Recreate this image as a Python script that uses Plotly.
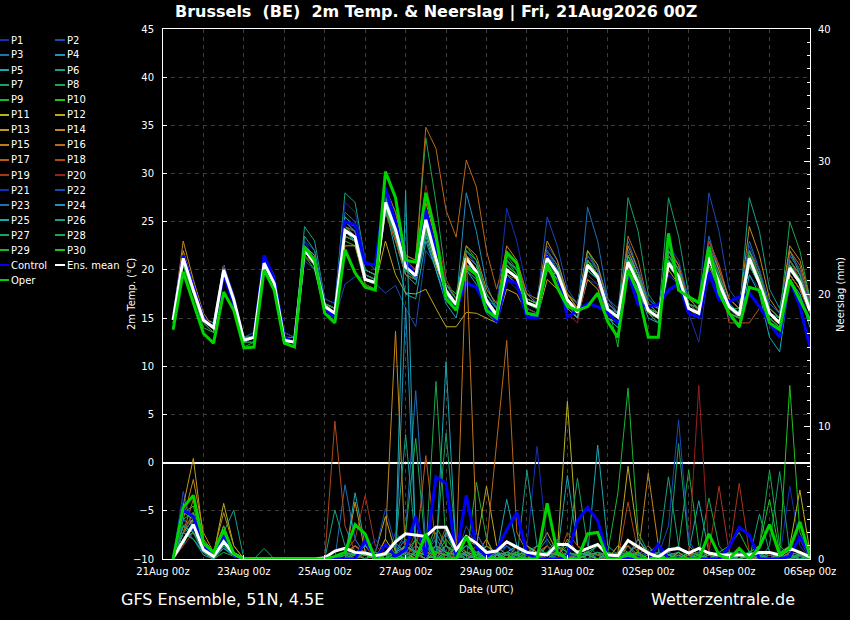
import plotly.graph_objects as go
import pandas as pd

# ---------------- data ----------------
START = "2026-08-21 06:00"
N_STEPS = 64
X_RANGE = ["2026-08-21 00:00", "2026-09-06 00:00"]
TITLE = "Brussels  (BE)  2m Temp. & Neerslag | Fri, 21Aug2026 00Z"

# 2m temperature (degC), 6-hourly from 21Aug 06z
T_MEAN = [14.8, 21.2, 17.9, 14.8, 14.0, 20.0, 16.9, 12.7,
          13.0, 20.7, 18.6, 12.7, 12.5, 22.1, 20.7, 16.2,
          15.5, 24.1, 23.4, 19.0, 18.7, 27.0, 24.2, 20.3,
          19.4, 25.2, 21.2, 17.8, 16.4, 21.2, 19.8, 16.8,
          15.3, 20.0, 19.2, 16.6, 16.2, 21.2, 19.7, 16.9,
          15.6, 20.5, 19.3, 15.9, 15.1, 20.8, 18.6, 15.8,
          15.1, 20.7, 19.3, 16.0, 15.5, 21.3, 18.6, 16.2,
          15.3, 21.2, 18.6, 15.5, 14.5, 20.2, 18.7, 15.8]
T_CONTROL = [14.8, 21.5, 18.2, 15, 14, 19.5, 16.5, 12.7,
             13, 21.5, 19, 13, 12.5, 22, 21, 16,
             15, 25, 24.7, 20.7, 20.5, 28.5, 25, 21,
             19.3, 26.2, 21.8, 16.9, 16.0, 18.6, 18.2, 16.2,
             14.6, 19.0, 18.6, 15.1, 15.0, 21.4, 19.7, 15.1,
             15.8, 16.5, 16.2, 15.5, 14.5, 19.7, 16.4, 16.2,
             16.4, 17.9, 18.6, 15.5, 15.1, 19.7, 16.9, 16.7,
             17.2, 17.6, 16.2, 14.5, 13.0, 19.0, 16.2, 12.0]
T_OPER = [13.8, 19.8, 16.6, 13.4, 12.4, 17.7, 15.8, 11.9,
          12.0, 20.0, 17.9, 12.4, 12.0, 22.4, 21.0, 15.5,
          14.5, 22.1, 19.7, 18.2, 17.9, 30.2, 27.5, 21.0,
          20.8, 28.0, 23.6, 17.0, 15.8, 20.3, 19.5, 15.8,
          15.0, 21.8, 20.7, 15.5, 15.3, 20.7, 18.2, 16.2,
          15.8, 16.2, 17.6, 14.6, 13.0, 20.0, 17.6, 13.0,
          13.0, 23.8, 17.9, 17.2, 16.6, 22.4, 17.6, 15.5,
          14.1, 18.2, 17.9, 14.5, 13.8, 19.0, 16.9, 14.8]

T_P1 = [15, 21.5, 18, 15, 14, 20.5, 17, 13,
        13, 21, 19, 13, 12.5, 23, 21, 16.5,
        16, 25, 24, 19.5, 19, 28, 25, 21,
        20, 24, 20, 17, 16, 19, 18, 16,
        14.5, 19, 18, 16, 15.5, 20, 19, 16.5,
        15, 19, 18.5, 15, 14, 20, 18, 15.5,
        14.5, 19.5, 18.5, 15.5, 12.5, 20, 18, 15,
        14.5, 19.5, 18, 15, 14, 18.5, 17.5, 15]
T_P2 = [14.5, 20.5, 17.5, 14.5, 13.5, 19.5, 16.5, 12.5,
        12.5, 20, 18, 12.5, 12, 21, 20, 16,
        15, 18.5, 19.3, 19.2, 18.6, 17.6, 18.4, 16,
        14.1, 22, 20.5, 18, 16.5, 22, 20.5, 17,
        15.5, 21, 20, 17.5, 16.5, 22.5, 21, 17.5,
        16, 21.5, 20, 16.5, 15.5, 21.5, 19.5, 16.5,
        15.5, 22, 20, 16.5, 16, 23, 20, 17,
        16, 22, 19.5, 16, 15, 21, 19, 16.5]
T_P3 = [15, 21, 18, 15, 14, 20, 17, 12.5,
        13, 20.5, 19, 13, 12.5, 22.5, 21.5, 16.5,
        16, 26, 25, 20, 19.5, 27.5, 24.5, 20,
        19, 25.5, 22, 18.5, 17, 22, 21, 17.5,
        16, 21, 20, 17, 16.5, 22, 20.5, 17.5,
        16.5, 22, 20.5, 17, 16, 23, 20, 17,
        16, 22, 20.5, 17, 16.5, 23.5, 20, 17,
        16, 23, 20, 16.5, 15.5, 22, 20, 17]
T_P4 = [15, 21, 18, 15, 14, 20, 17, 13,
        13, 21, 19, 13, 12.5, 22, 21, 16,
        15.5, 24.5, 23.5, 19.5, 19, 26.5, 23.5, 20,
        19, 24, 21, 18, 16.5, 28, 24, 18.5,
        16, 19, 18.5, 16, 15.5, 20.5, 19, 16.5,
        15, 21, 20, 16, 15, 22, 19.5, 16,
        15, 21.5, 19.5, 15.5, 15, 21, 18.5, 15.5,
        15, 20.5, 18.5, 15, 14, 20.5, 19, 16]
T_P5 = [15, 21, 18, 15, 14.5, 20.5, 17, 13,
        13.5, 21, 19, 13.5, 13, 22.5, 21, 16.5,
        16, 25.5, 24.5, 19.5, 19, 26.5, 22, 17.5,
        17, 23, 20, 17, 16, 20, 19, 16.5,
        15, 19.5, 18.5, 16, 15.5, 20.5, 19, 16,
        15, 21, 19.5, 16, 15, 20, 18, 15.5,
        15, 20.5, 19, 16, 15.5, 22, 19, 16,
        15.5, 22, 19, 15.5, 14.5, 21, 19, 16]
T_P6 = [15, 21.5, 18.5, 15, 14, 20, 17, 12.5,
        13, 20.5, 18.5, 12.5, 12.5, 24.5, 23, 17,
        16.5, 28, 27, 21, 20, 28, 24.5, 21,
        20, 26, 22, 18, 16.5, 21.5, 20.5, 17,
        15.5, 20.5, 19.5, 16.5, 16, 21.5, 20, 17,
        15.5, 20, 19, 15.5, 14.5, 21.5, 19, 15.5,
        15, 21, 19.5, 16, 15.5, 21, 18.5, 16,
        15.5, 27.5, 24, 18, 16, 22, 19.5, 16]
T_P7 = [15, 21, 18, 15, 14, 20, 17, 13,
        13, 20.5, 18.5, 13, 12.5, 22, 21, 16.5,
        15.5, 24, 23, 19, 18.5, 26.5, 23.5, 20,
        19, 24.5, 21, 17.5, 16, 20.5, 19.5, 16.5,
        15, 20.5, 19.5, 16.5, 16, 22, 20.5, 17,
        15.5, 21, 19.5, 16, 15, 27.5, 24, 17.5,
        16, 21, 19.5, 16, 15.5, 22, 19, 16,
        15, 21, 19, 15.5, 14.5, 20.5, 19, 16]
T_P8 = [15, 21, 18, 15, 14, 20, 17, 12.5,
        13, 21, 19, 13, 12.5, 22, 21, 16,
        15.5, 24.5, 24, 19.5, 19, 28.5, 26, 21.5,
        21, 33.7, 27, 19, 17, 22, 20.5, 17.5,
        16, 21.5, 20, 17, 16.5, 22, 20, 17,
        16, 21, 19.5, 16, 15, 21, 19, 16,
        15, 22, 20, 16.5, 15.5, 21.5, 19, 16,
        15.5, 21.5, 19, 15.5, 14.5, 20, 18.5, 15.5]
T_P9 = [14.5, 20.5, 17.5, 14.5, 13.5, 19.5, 16.5, 12,
        12.5, 20, 18, 12.5, 12, 21.5, 20.5, 16,
        15, 23.5, 23, 19, 18.5, 26.5, 24, 20.5,
        19.5, 24.5, 21.5, 18.5, 17.5, 22.5, 21, 17.5,
        16, 21, 19.5, 17, 16.5, 21.5, 20, 17.5,
        16.5, 22, 20, 16.5, 12, 21.5, 19, 16.5,
        15.5, 21, 19.5, 16, 15, 20.5, 18.5, 15.5,
        15, 21.5, 19, 15.5, 14.5, 21.5, 20, 16.5]
T_P10 = [14.5, 20.5, 17.5, 14, 13.5, 19.5, 16.5, 12.5,
         12.5, 20, 18, 12.5, 12, 21.5, 20, 15.5,
         15, 23, 22.5, 18.5, 18, 26.5, 24, 20,
         19, 24, 20.5, 17.5, 16, 20.5, 19.5, 16.5,
         15, 20, 19, 16.5, 16, 20.5, 19, 16.5,
         15.5, 20.5, 19, 15.5, 15, 20.5, 18.5, 15.5,
         14.5, 21, 19.5, 16, 15.5, 21, 18.5, 16,
         15.5, 20.5, 18.5, 15.5, 14.5, 20, 18.5, 16]
T_P11 = [15, 21, 18, 15, 14, 20, 17, 12.5,
         13, 20.5, 18.5, 12.5, 12.5, 22, 20.5, 16,
         15.5, 23.5, 23, 19, 18.5, 26, 23, 19.5,
         19, 24, 20.5, 17.5, 16.5, 20.5, 20, 17,
         15.5, 20, 19, 16.5, 16, 20, 19.5, 17.5,
         16, 20, 19, 16.5, 15.5, 20, 18.5, 16.5,
         15.5, 20.5, 19.5, 16.5, 16, 21, 18.5, 16,
         15.5, 20.5, 18.5, 15.5, 14.5, 19.5, 18, 15.5]
T_P12 = [15, 21.5, 18.5, 15, 14, 20.5, 17, 13,
         13, 21, 19, 13, 12.5, 22, 21, 16.5,
         15.5, 22.5, 22.5, 19, 18.5, 23, 19.5, 17.6,
         17.5, 18, 16, 14.1, 14.1, 15.6, 15.5, 15,
         14.5, 18, 17.5, 15.5, 15, 19, 18, 16,
         15, 19, 18, 15, 14.5, 19.5, 18, 15.5,
         15, 20, 18.5, 15.5, 15, 20.5, 18, 15.5,
         15, 20.5, 18.5, 15.5, 14.5, 19.5, 18, 15.5]
T_P13 = [15.5, 22, 18.5, 15, 14, 20.5, 17, 13,
         13, 21, 19, 13, 12.5, 22.5, 21, 16,
         15.5, 24, 23.5, 19, 18.5, 27, 24.5, 20.5,
         19.5, 25, 21.5, 18, 16.5, 21, 20, 17,
         15.5, 21, 20, 17, 16.5, 21.5, 20, 17,
         15.5, 21, 19.5, 16, 15, 22, 19.5, 16,
         15.5, 20.5, 19, 16, 15.5, 21.5, 19, 16,
         15.5, 21.5, 19, 15.5, 14.5, 21, 19.5, 16.5]
T_P14 = [15, 23, 19, 15.5, 14, 20.5, 17, 12.5,
         13, 21, 19, 13, 12.5, 22.5, 21.5, 16.5,
         16, 24.5, 24, 20, 19.5, 28, 25, 21,
         20, 27, 23, 18.5, 17, 22.5, 21.5, 18,
         16.5, 22.5, 21, 17.5, 17, 23, 21, 17.5,
         16.5, 22, 20.5, 16.5, 15.5, 22.5, 20, 16.5,
         16, 22, 20.5, 17, 16, 22.5, 20, 17,
         16, 24.5, 21.5, 17, 15.5, 22.5, 21, 17]
T_P15 = [15, 21.5, 18, 15, 14, 20, 17, 12.5,
         13, 20.5, 18.5, 13, 12.5, 22, 20.5, 16,
         15.5, 24, 23, 19, 18.5, 27.5, 24.5, 20.5,
         19, 25.5, 22, 18, 16.5, 21.5, 20, 17,
         15.5, 20.5, 19.5, 17, 16.5, 21.5, 20, 17.5,
         16, 21, 19.5, 16.5, 15.5, 21, 19, 16.5,
         15.5, 21, 19.5, 16, 15.5, 21, 19, 16,
         15, 21, 19, 15.5, 14.5, 21, 19, 16]
T_P16 = [15, 21.5, 18, 15, 14, 20, 17, 13,
         13, 21, 19, 13, 12.5, 22, 21, 16.5,
         16, 25, 24.5, 20, 19.5, 28.5, 26, 21.5,
         21, 34.8, 32.6, 26.2, 23.4, 31.4, 28.6, 22,
         18, 22, 20.5, 17.5, 16.5, 22, 20, 17,
         16, 21.5, 20, 16, 15, 23.5, 21, 16.5,
         15.5, 21.5, 20, 16.5, 16, 23, 20.5, 17,
         16, 22, 20, 16, 15, 22, 20.5, 16.5]
T_P17 = [15, 21, 18, 15, 14, 20, 17, 12.5,
         13, 20.5, 18.5, 13, 12.5, 21.5, 20.5, 16,
         15.5, 23.5, 23, 19, 18.5, 26.5, 23.5, 20,
         19, 24.5, 21, 17.5, 16, 20.5, 19.5, 16.5,
         15, 19.5, 19, 16.5, 16, 20.5, 19.5, 16.5,
         15.5, 20, 19, 15.5, 14.5, 20.5, 18.5, 15.5,
         15, 22.5, 20.5, 16.5, 15.5, 22.5, 19.5, 14.5,
         14.5, 14.5, 16, 15, 14, 19.5, 18, 15.5]
T_P18 = [15, 21, 18, 15, 14, 20, 17, 12.5,
         13, 20.5, 18.5, 12.5, 12.5, 22, 20.5, 16,
         15, 23.5, 23, 18.5, 18, 26, 23, 19.5,
         19, 24.5, 21, 18, 16.5, 21, 20, 17,
         15.5, 20, 19, 16.5, 16, 21, 19.5, 16.5,
         15.5, 20, 19, 16, 15, 20.5, 18.5, 16,
         15, 20.5, 19, 16, 15.5, 21.5, 19, 16,
         15.5, 21, 19, 15.5, 14.5, 20.5, 19, 16.5]
T_P19 = [15, 21, 18, 15, 14, 20, 17, 13,
         13, 21, 19, 13, 13, 22.5, 21, 16.5,
         16, 24.5, 24, 19.5, 19, 27.5, 24.5, 20.5,
         19.5, 25, 21.5, 18, 16.5, 21, 20, 16.5,
         15, 20.5, 19.5, 16.5, 16, 21, 19.5, 17,
         15.5, 21, 19.5, 16, 15, 20.5, 18.5, 16,
         15.5, 21, 19.5, 16, 15, 23, 20.5, 15.5,
         14, 21.5, 19.5, 15.5, 14, 21.5, 20, 16.5]
T_P20 = [15, 21, 18, 15, 14, 20, 17, 12.5,
         13, 20.5, 18.5, 12.5, 12.5, 21.5, 20.5, 16,
         15.5, 24, 23.5, 19, 18.5, 27, 24.5, 21,
         20, 28.8, 24, 19, 17, 21, 19.5, 16,
         15, 19.5, 18.5, 16, 15.5, 20, 18.5, 15.5,
         14.5, 19.5, 18.5, 15.5, 14.5, 20, 18, 15.5,
         15, 20.5, 19, 16, 15.5, 21, 18.5, 16,
         15.5, 21.5, 19, 15.5, 14.5, 21, 19, 16]
T_P21 = [15, 21.5, 18.5, 15, 14, 20.5, 17.5, 13,
         13.5, 21.5, 19.5, 13.5, 13, 23, 22, 17,
         16.5, 27, 26, 21, 20, 28, 24.5, 21,
         19.5, 26, 22.5, 18.5, 16.5, 22, 20.5, 17,
         16, 26.4, 23, 18, 16.5, 22, 20, 16.5,
         15.5, 20.5, 19, 16, 15, 21, 19, 16,
         15.5, 21, 19.5, 16, 15.5, 22.5, 19.5, 16.5,
         15.5, 21, 19, 15.5, 14.5, 20.5, 19, 16]
T_P22 = [15, 21, 18, 15, 14, 20, 17, 12.5,
         13, 21, 19, 13, 12.5, 22, 21, 16,
         15.5, 25, 24, 19.5, 19, 27.5, 24.5, 20.5,
         19.5, 25, 21.5, 18, 16.5, 21.5, 20.5, 17.5,
         16, 21, 20, 17, 16.5, 25.5, 22.5, 18,
         16.5, 21.5, 20, 16.5, 15.5, 22, 20, 17,
         16, 22.5, 21, 17, 16.5, 28, 24, 18,
         16.5, 22.5, 20, 16.5, 15.5, 21.5, 20, 16.5]
T_P23 = [15, 21, 18, 15, 14, 20, 17, 12.5,
         13, 20.5, 18.5, 13, 12.5, 22, 20.5, 16,
         15.5, 24, 23.5, 19, 18.5, 26.5, 23.5, 20,
         19, 24.5, 21, 17.5, 16, 21, 19.5, 16.5,
         15, 20, 19, 16.5, 16, 21, 19.5, 16.5,
         15.5, 26.5, 23, 17, 15.5, 21, 19, 16,
         15.5, 21, 19.5, 16, 15.5, 21, 18.5, 16,
         15, 20.5, 18.5, 15, 14, 20, 18.5, 15.5]
T_P24 = [15, 21, 18, 15, 14, 20, 17, 13,
         13, 21, 19, 13, 13, 22.5, 21, 16.5,
         16, 25, 24, 19.5, 19, 27, 24, 20,
         19, 24.5, 21, 17.5, 16, 21, 20, 17,
         15.5, 20.5, 19.5, 17, 16.5, 21, 19.5, 17,
         16, 20.5, 19.5, 16, 15, 21, 19, 16,
         15.5, 21, 19.5, 16, 15.5, 21, 19, 16,
         15.5, 20.5, 18.5, 15.5, 14.5, 20.5, 19, 16]
T_P25 = [15, 21, 18, 15, 14, 20, 17, 12.5,
         13, 20.5, 18.5, 12.5, 12.5, 22, 20.5, 16,
         15.5, 24, 23, 19, 18.5, 26.5, 23.5, 19.5,
         18.5, 23.5, 20, 16.5, 15, 20, 18.5, 15.5,
         14.5, 19.5, 18.5, 15.5, 15, 20, 19, 16,
         15, 20, 19, 15, 14, 20, 18, 15,
         14.5, 20.5, 19, 15.5, 15, 21, 18.5, 15.5,
         14, 19.5, 17.5, 13, 11.5, 19, 17.5, 14]
T_P26 = [15, 21, 18, 15, 14, 20, 17, 13,
         13, 21, 19, 13, 12.5, 23.5, 22, 16.5,
         16, 25.5, 24.5, 20, 19.5, 27.5, 24.5, 20.5,
         19.5, 25, 21.5, 18, 16.5, 21, 20, 17,
         15.5, 20.5, 19.5, 17, 16.5, 21.5, 20, 17,
         16, 21, 19.5, 16, 15.5, 21.5, 19.5, 16.5,
         15.5, 22, 20, 16.5, 16, 22, 19.5, 16.5,
         15.5, 21.5, 19, 15.5, 15, 20.5, 19, 16.5]
T_P27 = [15, 21, 18, 15, 14, 20, 17, 12.5,
         13, 20.5, 18.5, 13, 12.5, 22, 20.5, 16,
         15.5, 23.5, 23, 19, 18.5, 26, 23.5, 20,
         19, 24, 21, 18, 16.5, 21, 20, 17,
         15.5, 20, 19, 16.5, 16, 20.5, 19.5, 16.5,
         15.5, 20, 19, 15.5, 14.5, 21, 19, 16,
         15, 27.5, 23.5, 17.5, 15.5, 21.5, 19, 16,
         15.5, 21, 19, 15.5, 14.5, 21, 19.5, 16]
T_P28 = [15, 21, 18, 15, 14, 20, 17, 13,
         13, 21, 19, 13, 12.5, 22.5, 21, 16.5,
         16, 24.5, 23.5, 19.5, 19, 27, 24, 20.5,
         19.5, 25.5, 22, 18.5, 17, 22, 21, 17.5,
         16, 21, 20, 17, 16.5, 21.5, 20, 17,
         16, 21, 19.5, 16, 15, 21, 19, 16,
         15.5, 21.5, 20, 16.5, 16, 22, 19.5, 16,
         16, 22, 19.5, 16, 15, 25, 22, 17]
T_P29 = [15, 21, 18, 15, 14, 20, 17, 12.5,
         13, 20.5, 18.5, 12.5, 12.5, 22, 20.5, 16,
         15.5, 24, 23.5, 19, 18.5, 26.5, 23.5, 20,
         19.5, 24.5, 21, 17.5, 16, 20.5, 19.5, 16.5,
         15, 20, 19, 16.5, 16, 20.5, 19, 16.5,
         15.5, 20.5, 19, 15.5, 14.5, 20.5, 18.5, 15.5,
         15, 20.5, 19, 15.5, 15, 20.5, 18, 15.5,
         15, 20.5, 18.5, 15, 14, 20, 18.5, 15.5]
T_P30 = [15, 21, 18, 15, 14, 20, 17, 12.5,
         13, 20.5, 18.5, 13, 12.5, 22, 21, 16,
         15.5, 24, 23.5, 19, 18.5, 27, 24, 20.5,
         19.5, 25, 21.5, 18, 16.5, 21.5, 20.5, 17,
         15.5, 20.5, 19.5, 17, 16.5, 21, 19.5, 17,
         16, 21, 19.5, 16, 15, 21.5, 19, 16,
         15.5, 21, 19.5, 16, 15.5, 21.5, 19, 16,
         15.5, 21.5, 19, 16, 15, 20.5, 19, 16.5]

# precipitation (mm per 6h), right axis
R_MEAN = [0.1, 1.4, 2.6, 0.7, 0.2, 1.3, 0.4, 0,
          0, 0, 0, 0, 0, 0, 0, 0.1,
          0.6, 0.8, 0.5, 0.45, 0.25, 0.4, 1.3, 1.9,
          1.8, 1.7, 2.4, 2.4, 0.7, 1.7, 1.2, 0.5,
          0.6, 1.3, 0.9, 0.5, 0.4, 0.3, 1.1, 1.1,
          0.5, 0.8, 1.1, 0.3, 0.25, 1.4, 0.9, 0.45,
          0.15, 0.7, 0.8, 0.45, 0.8, 0.45, 0.3, 0.3,
          0.3, 0.3, 0.5, 0.5, 0.3, 0.8, 0.5, 0.15]
R_CONTROL = [0, 3.7, 3.2, 0.9, 0.4, 1.8, 0.3, 0,
             0, 0, 0, 0, 0, 0, 0, 0,
             0, 0, 0, 1.4, 0, 1.1, 0.2, 0.7,
             3.2, 0.2, 6.2, 5.7, 0.2, 4.8, 0.9, 0.2,
             0.7, 2.2, 3.5, 0.4, 0, 0, 0, 0.2,
             2.9, 3.9, 2.9, 0.2, 0, 0, 0, 0,
             1.1, 0, 0, 0, 0, 0, 0, 0.9,
             2.4, 1.8, 0, 0, 0, 0.2, 1.7, 0.2]
R_OPER = [0, 3.9, 4.8, 1.2, 0.5, 2.2, 0.4, 0,
          0, 0, 0, 0, 0, 0, 0, 0,
          0.2, 0.5, 2.6, 1.9, 0, 0, 0, 0,
          0, 1.9, 0, 0, 0, 1.7, 0, 0,
          0, 0, 0, 0, 0, 4.2, 0.5, 0,
          0, 1.9, 2.0, 0, 0, 0.4, 0, 0,
          0, 0, 0, 0, 0, 1.9, 0.3, 0,
          0.8, 0, 0.9, 2.6, 0.3, 0.8, 2.8, 0.2]

R_P1 = [0, 2.5, 1.5, 0.5, 0.2, 1, 0.3, 0,
        0, 0, 0, 0, 0, 0, 0, 0,
        0, 0.5, 1.5, 0.3, 0, 0.5, 0, 0.2,
        1, 0.5, 0.3, 2, 0.5, 1, 0.5, 0.2,
        0, 0.5, 1, 0.3, 0, 0, 0.5, 0.2,
        0, 0.3, 0, 0, 0, 0.5, 0.2, 0,
        0, 0.3, 0, 0, 0.5, 0, 0, 0.3,
        0, 0.5, 0.2, 0, 0, 5.5, 1, 0]
R_P2 = [0, 5.1, 2, 1, 0.3, 1.5, 0.5, 0,
        0, 0, 0, 0, 0, 0, 0, 0,
        0, 0, 0.5, 1, 0.5, 0, 2, 1,
        0.5, 1.5, 0.5, 0.3, 0, 2.5, 1, 0.3,
        0, 1, 0.5, 0, 0.3, 0.5, 0, 0,
        0.3, 0, 0.5, 0.2, 0, 1, 0.3, 0,
        0, 0.5, 1, 0.2, 0, 0.3, 0, 0,
        0.5, 0.3, 0, 0, 0.5, 0.3, 0, 0.2]
R_P3 = [0, 3, 2.5, 0.5, 0.3, 1, 0.2, 0,
        0, 0, 0, 0, 0, 0, 0, 0,
        0, 5.6, 1.5, 0.3, 0, 0, 0.5, 2,
        12.7, 1, 0.5, 0, 0.3, 1.5, 0.5, 0,
        0.3, 0, 0.5, 1, 0.3, 0, 0, 0.5,
        0.2, 0, 0, 0.5, 0, 0.2, 1.5, 0.3,
        0, 0.5, 0.2, 0, 0.3, 0, 0, 0.5,
        0.3, 0, 0.2, 0, 0, 0.5, 0.3, 0]
R_P4 = [0, 1.5, 2, 0.5, 0.2, 0.8, 0.2, 0,
        0, 0, 0, 0, 0, 0, 0, 0,
        0, 0, 1, 0.5, 0, 0.3, 0, 19,
        1, 0.3, 2, 0.5, 0, 0.3, 1, 0,
        0, 0.3, 0, 0.5, 0, 1, 0.3, 0,
        0, 0.5, 0.3, 0, 0, 0.2, 0, 0.5,
        1, 0.3, 0, 0, 0, 0.5, 0.2, 0,
        0, 0.3, 0, 0.5, 0, 0, 0.2, 0.3]
R_P5 = [0, 2, 1.5, 0.3, 0, 0.8, 0.3, 0,
        0, 0, 0, 0, 0, 0, 0, 0,
        0, 0, 0.5, 0.3, 0, 0, 0.5, 27.8,
        0.5, 0, 1, 0.5, 0.3, 0, 0.5, 1,
        0.3, 4.5, 1, 0.3, 0, 0.5, 0.3, 6.3,
        1, 0.3, 0, 0.5, 0, 0.2, 0, 0.5,
        0, 0.3, 0, 0.5, 4.4, 0.5, 0, 0,
        0.3, 0, 0, 0.3, 0, 0.2, 0.3, 0]
R_P6 = [0, 1, 3, 0.5, 0.3, 1.5, 0.5, 0,
        0, 0, 0, 0, 0, 0, 0, 0,
        3.7, 1, 0.5, 0.5, 0, 0.3, 1.2, 0.5,
        0, 1, 0.5, 2, 0.3, 0, 0.5, 0,
        0.5, 1, 0.3, 0, 0.5, 1.5, 0.3, 0,
        0, 0.5, 0.3, 0, 0, 0.5, 0.3, 0,
        0.5, 6.2, 1, 0, 0, 0.5, 0.3, 0,
        0, 0.3, 0.5, 0, 0, 0.3, 0, 0]
R_P7 = [0, 1.5, 2, 0.5, 0, 1, 0.3, 0,
        0, 0.8, 0, 0, 0, 0, 0, 0,
        0, 0.3, 0, 0.5, 0.3, 0, 0.5, 1,
        0.5, 0.3, 1, 9.5, 1, 0.5, 0, 0.3,
        0.5, 0.3, 0, 1, 0.5, 0, 0.5, 0.3,
        0, 0.3, 1, 0.5, 0, 0.5, 0, 0,
        0.3, 0, 0.5, 0, 0, 0.3, 0.5, 0,
        0, 0.5, 0, 1, 6.6, 0.5, 0, 0]
R_P8 = [0, 2, 3.5, 1, 0.3, 1.5, 0.5, 0,
        0, 0, 0, 0, 0, 0, 0, 0,
        0, 0.3, 0, 0.5, 0, 0, 1.5, 2,
        9.1, 0.5, 0.3, 1, 0, 0.5, 0.3, 0,
        0, 0.5, 0.3, 0, 0.3, 0.5, 1, 0.5,
        0.3, 0, 0.5, 0, 0, 1, 0.3, 0,
        0, 0.3, 0, 0.5, 0.3, 4.6, 1, 0,
        0, 0, 0.3, 0.5, 0, 0.3, 0, 0.5]
R_P9 = [0, 2.5, 2, 0.5, 0, 0.5, 0.2, 0,
        0, 0, 0, 0, 0, 0, 0, 0,
        0, 0, 0.3, 0.5, 0, 0.5, 0.3, 0,
        1.5, 0.5, 2.5, 1, 0.3, 0, 5.8, 1.5,
        0, 0.5, 0, 0.3, 0.5, 0, 0.3, 0,
        0.5, 0.3, 0, 0, 1, 0.3, 0, 0,
        0, 0.5, 1, 6.7, 1, 0.3, 0, 0,
        0.3, 0, 0.5, 0, 0, 0.5, 0.3, 0]
R_P10 = [0, 3.5, 4, 1, 0.5, 2, 0.3, 0,
         0, 0, 0, 0, 0, 0, 0, 0,
         0, 0, 0.5, 0, 0.3, 0.5, 0.3, 0,
         0.5, 0, 0.3, 1.5, 0.5, 0, 0.5, 0.3,
         0, 0.3, 0, 0.5, 0, 0.3, 0.5, 0,
         0, 0.5, 0.3, 0, 0, 1.5, 0.5, 0,
         0.3, 0, 0, 0.5, 0, 0, 0.3, 0.5,
         0, 0.3, 0, 0, 0.5, 1, 0.3, 0]
R_P11 = [0, 1.5, 2.5, 1, 0.3, 4.2, 1, 0,
         0, 0, 0, 0, 0, 0, 0, 0,
         0, 0.3, 0, 0.5, 0, 1.5, 0.3, 0.5,
         0, 0.5, 0.3, 0, 1, 0.3, 0, 0.5,
         0.3, 0, 0.5, 1, 0.5, 2, 0.5, 11.9,
         1, 0.3, 0, 0.5, 0, 0.3, 0.5, 0,
         0.3, 0, 0.5, 0, 0, 0.5, 0, 0.3,
         0, 0.5, 0, 0, 0.3, 1, 5.2, 0.5]
R_P12 = [0, 2, 3, 0.5, 0, 1.5, 0.3, 0,
         0, 0, 0, 0, 0, 0, 0, 0,
         0, 0.5, 1, 0.3, 0.5, 3.2, 0.5, 0,
         0.3, 0.5, 1, 0.5, 0, 1.5, 1, 5.5,
         1, 0.3, 0, 0.5, 0.3, 1, 0, 0.5,
         0, 0.5, 0.3, 0, 0.5, 7, 1.5, 0.3,
         0, 0.3, 0, 0.5, 0, 0.3, 0.5, 0,
         0.3, 0, 0, 0.5, 0, 0.3, 0, 0]
R_P13 = [0, 4, 7.6, 1.5, 0.5, 2.5, 0.5, 0,
         0, 0, 0, 0, 0, 0, 0, 0,
         0, 0, 4.3, 0.5, 0, 0.3, 0, 1,
         0.5, 0, 0.3, 1, 0.5, 0, 0.3, 1.5,
         0, 0.5, 0.3, 0, 1, 0.3, 0, 1.5,
         0.5, 0, 0.3, 0.5, 0, 0.5, 0.3, 1,
         0, 0.3, 0, 0.3, 0, 0.5, 0, 0.3,
         0.5, 0, 0, 0.3, 0, 0.5, 1.5, 0]
R_P14 = [0, 3, 6, 2, 0.5, 3.5, 1, 0,
         0, 0, 0, 0, 0, 0, 0, 0,
         0, 0, 0.3, 1, 0, 1.5, 17.2, 0,
         0.5, 0.3, 1, 0, 0.5, 0.3, 0, 1,
         0.5, 0, 0.3, 0, 0.5, 0.3, 1, 0,
         0, 0.3, 0.5, 0, 1, 0.5, 0.3, 6.5,
         1, 0, 0.3, 0, 0.5, 0, 0.3, 0,
         0.3, 0, 0.5, 0, 0, 0.3, 0, 0.5]
R_P15 = [0, 2.5, 3, 1, 0.3, 2, 0.5, 0,
         0, 0, 0, 0, 0, 0, 0, 0,
         0, 0.3, 0.5, 0, 0.3, 0, 0.5, 0.3,
         0, 1, 0.5, 0.3, 0, 23, 2, 0.5,
         0.3, 0, 1, 0.5, 0, 0.3, 0.5, 0,
         0.3, 0, 0.5, 0.3, 0, 0.5, 1, 0.3,
         0, 0.5, 0, 0.3, 0, 0, 0.5, 0,
         0, 0.3, 0, 0, 0.5, 0, 0.3, 0]
R_P16 = [0, 2, 4.5, 1, 0.3, 2, 0.3, 0,
         0, 0, 0, 0, 0, 0, 0, 0,
         0, 0.5, 0, 0.3, 0, 0.5, 0.3, 1,
         0.3, 0, 0.5, 0.3, 1.5, 0.5, 0.3, 1,
         8.5, 16.5, 2, 0.5, 0.3, 0, 0.5, 0,
         0.5, 0.3, 0, 0, 0.5, 1, 0, 0.3,
         0, 0.3, 0.5, 0, 0, 0.3, 0, 0.5,
         0.3, 0, 0, 0.5, 0, 0, 0.3, 0]
R_P17 = [0, 1.5, 2.5, 0.5, 0.2, 1.5, 0.3, 0,
         0, 0, 0, 0, 0, 0, 0, 0,
         0, 0.3, 1, 0.5, 0, 0, 0.5, 1,
         0.5, 7.8, 1, 0.3, 0, 0.5, 0, 0.3,
         0.5, 0, 0.3, 0, 0.5, 1, 0.3, 0,
         0, 0.3, 0, 0.5, 0.3, 0, 0.5, 0,
         0.3, 0, 0, 0.5, 0, 0.3, 0, 0,
         0, 0.5, 0.3, 0, 0, 0.5, 0, 0.3]
R_P18 = [0, 2, 3.5, 1, 0.3, 1.5, 0.5, 0,
         0, 0, 0, 0, 0, 0, 0, 0,
         10.4, 2.5, 0.5, 1, 0.3, 0, 0.5, 0.3,
         1, 0.5, 0.3, 2.5, 0.5, 0, 0.3, 0,
         0.5, 0.3, 0, 0.5, 0, 0.3, 0, 2,
         1, 0.5, 0.3, 0.5, 0, 4.3, 0.5, 0,
         0.3, 0, 0, 0.3, 0.5, 0, 0.3, 0,
         0, 0.3, 0, 0.5, 0.3, 0, 0.3, 0]
R_P19 = [0, 1, 2, 0.5, 0, 1, 0.3, 0,
         0, 0, 0, 0, 0, 0, 0, 0,
         0, 0.5, 1.5, 4.8, 1, 0.3, 0, 0.5,
         0.3, 1, 0.5, 0, 0.3, 0.5, 0.3, 0,
         0, 0.3, 0.5, 1, 0, 0.5, 0.3, 0,
         0.5, 0, 0.3, 0, 0.5, 0, 0.3, 0.5,
         0, 0.3, 0, 0.5, 0.3, 0.5, 5.5, 0.5,
         5.7, 0.5, 0, 0.3, 0, 0, 0.5, 0]
R_P20 = [0, 1.5, 2.5, 0.5, 0.2, 1, 0.3, 0,
         0, 0, 0, 0, 0, 0, 0, 0,
         0, 0, 0.5, 0, 0.3, 0.5, 1, 0.3,
         2, 0.5, 0, 0.3, 0.5, 0, 1, 0.3,
         0, 0.5, 0, 0.3, 0, 0.5, 0.3, 0,
         0.3, 0, 0.5, 0, 0.3, 0.5, 0, 0,
         0.5, 0, 0.3, 0.5, 13.1, 0.5, 0, 0,
         0.3, 0, 0.5, 0, 0.3, 0, 0, 0.5]
R_P21 = [0, 4.5, 3, 1, 0.3, 1.5, 0.3, 0,
         0, 0, 0, 0, 0, 0, 0, 0,
         0, 0.3, 0, 0.5, 1.5, 0.5, 0, 0.3,
         0.5, 1, 0.3, 0, 0.5, 1, 0.3, 0.5,
         0.3, 0, 0.5, 1, 8.5, 1, 0, 0.3,
         0.5, 0, 0.3, 0, 0.5, 0.3, 0, 0.5,
         0, 0.5, 0, 0, 0.3, 0, 0.5, 0,
         0.3, 0, 0.5, 0, 0, 0.3, 0, 0]
R_P22 = [0, 3, 2, 0.5, 0.3, 1, 0.3, 0,
         0, 0, 0, 0, 0, 0, 0, 0,
         0, 0, 0.5, 1, 0.5, 3.8, 1, 0.3,
         0, 0.5, 1, 0.3, 0, 0.5, 2, 0.5,
         0.5, 1, 0, 0.3, 0.5, 0, 0.3, 0.5,
         0, 0.5, 1, 0.3, 0, 0.5, 0.3, 1,
         0.3, 2.5, 10.5, 1.5, 0, 0.3, 0, 0,
         0.5, 0, 0.3, 0, 0, 1, 0.5, 0]
R_P23 = [0, 2, 1.5, 0.5, 0, 1, 0.2, 0,
         0, 0, 0, 0, 0, 0, 0, 0,
         0, 0.3, 0.5, 0, 0.5, 0.3, 0, 0.5,
         0.3, 0.5, 1.5, 0.5, 0.3, 0, 0.5, 0.3,
         0, 0.5, 0.3, 0, 0.3, 0.5, 0, 0.5,
         0.3, 0, 0.5, 0.3, 0, 0.5, 0, 0,
         0.5, 0.3, 0, 0, 0.5, 0, 0.3, 0,
         0, 0.3, 0, 0.5, 0, 0, 0.3, 0]
R_P24 = [0, 2.5, 2, 1, 0.3, 1.5, 0.3, 0,
         0, 0, 0, 0, 0, 0, 0, 0,
         0, 0.5, 0.3, 1, 0.3, 0, 0.5, 1.5,
         0.5, 0.3, 0, 1, 0.5, 0.3, 0, 0.5,
         0.5, 0, 0.3, 0.5, 1, 0.3, 0, 0,
         0.3, 0.5, 0, 0.3, 0, 0.3, 1.5, 0.5,
         0, 0.3, 0.5, 0, 0.3, 0, 0, 0.5,
         0.3, 0, 0.3, 0, 0.5, 0, 0, 0.3]
R_P25 = [0, 2, 2.5, 0.5, 0.2, 1, 0.2, 0,
         0, 0, 0, 0, 0, 0, 0, 0,
         0, 0, 5, 1, 0.3, 0, 0.5, 1,
         0.5, 1, 0.3, 14.9, 0.5, 0, 0.3, 1,
         0.3, 0.5, 1, 0, 0.3, 0.5, 0.3, 1,
         0.5, 0.3, 8.6, 1, 0.3, 0, 0.5, 0,
         0.3, 0, 0, 0.5, 0.3, 0, 0.5, 0,
         0, 0.5, 0.3, 0, 0, 0.3, 0, 0.3]
R_P26 = [0, 1.5, 2, 0.5, 0.3, 2, 3.7, 0,
         0, 0, 0, 0, 0, 0, 0, 0,
         0, 0, 0.3, 0.5, 0, 0.5, 1, 9.4,
         1, 0.5, 0, 0.3, 0.5, 1, 0.3, 0,
         0.5, 0.3, 0, 6.7, 1, 0.3, 0.5, 0,
         0, 0.3, 0.5, 0, 0.3, 0.5, 0, 0.3,
         0.5, 0, 0.3, 0, 0, 0.5, 0.3, 0,
         0.3, 0, 3.4, 0.5, 0, 0.3, 0, 0]
R_P27 = [0, 2, 1.5, 0.5, 0, 1, 0.3, 0,
         0, 0, 0, 0, 0, 0, 0, 0,
         0, 0.3, 0, 0.5, 0.3, 0, 0.5, 0.3,
         0.5, 0, 1, 0.5, 0.3, 0.5, 0, 1,
         0.3, 0, 0.5, 1, 0.3, 0.5, 1.5, 0.5,
         6.1, 1, 0.3, 0, 0.5, 0.3, 0, 0,
         0.3, 0.5, 8.7, 1, 0.3, 0, 0.5, 0,
         0, 0.3, 0, 0.5, 0.3, 0, 0.5, 0]
R_P28 = [0, 2.5, 2, 1, 0.3, 1.5, 0.5, 0,
         0, 0, 0, 0, 0, 0, 0, 0,
         0, 0.5, 0.3, 0, 0.5, 0.3, 0, 0.5,
         1.5, 0.5, 13.4, 1, 0.5, 0, 0.3, 0.5,
         0, 0.3, 0.5, 0, 0.5, 0.3, 0, 0.5,
         0.3, 0, 0.5, 0.3, 0, 0.5, 0.3, 0,
         0, 0.3, 0, 0.5, 0, 0.3, 0, 0.5,
         0.3, 0.5, 1, 6.7, 1, 0.3, 0, 0]
R_P29 = [0, 3, 3.5, 1, 0.3, 2, 0.5, 0,
         0, 0, 0, 0, 0, 0, 0, 0,
         0, 0.3, 0.5, 0.3, 0, 0.5, 0.3, 0,
         0.5, 1, 0.5, 0.3, 0, 0.5, 0.3, 0.5,
         0, 0.5, 0.3, 0, 0.5, 0.3, 1, 0.5,
         0.3, 0.5, 1, 0.5, 5, 12.9, 2, 0.5,
         0, 0.3, 0, 0.5, 0.3, 0, 0, 0.3,
         0, 0.3, 0.5, 0, 0.3, 0, 0.3, 0]
R_P30 = [0, 3.5, 3, 1, 0.3, 2.5, 0.5, 0,
         0, 0, 0, 0, 0, 0, 0, 0,
         0, 0, 0.5, 0.3, 0, 0.3, 0.5, 0,
         0.5, 0.3, 0, 0.5, 0.3, 1, 0.5, 0,
         0.3, 0, 0.5, 0.3, 0, 0.5, 0.3, 0,
         0, 0.3, 0, 0.5, 0.3, 0, 0.5, 0,
         0.3, 0, 0.5, 0, 0.3, 0, 0.5, 1,
         2, 0.5, 1, 4.5, 0.5, 13.1, 2, 0.3]

MEMBER_NAMES = ["P%d" % k for k in range(1, 31)]
T_MEMBERS = [T_P1, T_P2, T_P3, T_P4, T_P5, T_P6, T_P7, T_P8, T_P9, T_P10,
             T_P11, T_P12, T_P13, T_P14, T_P15, T_P16, T_P17, T_P18, T_P19, T_P20,
             T_P21, T_P22, T_P23, T_P24, T_P25, T_P26, T_P27, T_P28, T_P29, T_P30]
R_MEMBERS = [R_P1, R_P2, R_P3, R_P4, R_P5, R_P6, R_P7, R_P8, R_P9, R_P10,
             R_P11, R_P12, R_P13, R_P14, R_P15, R_P16, R_P17, R_P18, R_P19, R_P20,
             R_P21, R_P22, R_P23, R_P24, R_P25, R_P26, R_P27, R_P28, R_P29, R_P30]

BASE_COLORS = ["#1530b8", "#1a4ab5", "#1f6fb5", "#1f90c0", "#1aa8b5",
               "#17a085", "#18a066", "#19a84c", "#1ab535", "#1cc41c",
               "#b8b41a", "#c0a81a", "#c4981a", "#c4881a", "#c4781a",
               "#bc6818", "#b85a18", "#b04a1a", "#a8361e", "#98201e"]
MEMBER_COLORS = BASE_COLORS + BASE_COLORS[:10]
CONTROL_COLOR = "#0000ff"
MEAN_COLOR = "#ffffff"
OPER_COLOR = "#00d400"

for nm, arr in list(zip(MEMBER_NAMES, T_MEMBERS)) + list(zip(MEMBER_NAMES, R_MEMBERS)) + \
        [("T_MEAN", T_MEAN), ("T_CONTROL", T_CONTROL), ("T_OPER", T_OPER),
         ("R_MEAN", R_MEAN), ("R_CONTROL", R_CONTROL), ("R_OPER", R_OPER)]:
    assert len(arr) == N_STEPS, (nm, len(arr))

times = [t.strftime("%Y-%m-%d %H:%M") for t in pd.date_range(START, periods=N_STEPS, freq="6h")]

# ---------------- figure ----------------
FONT = "DejaVu Sans"
W, H = 850, 620
L, R, T, B = 163, 40, 29, 61
PW, PH = W - L - R, H - T - B


def px(x):
    return (x - L) / PW


def py(y):
    return (H - B - y) / PH


fig = go.Figure()

for yname, members, ctrl, mean, oper in [("y", T_MEMBERS, T_CONTROL, T_MEAN, T_OPER),
                                        ("y2", R_MEMBERS, R_CONTROL, R_MEAN, R_OPER)]:
    for name, arr, col in zip(MEMBER_NAMES, members, MEMBER_COLORS):
        fig.add_trace(go.Scatter(x=times, y=arr, mode="lines", name=name, yaxis=yname,
                                 line=dict(color=col, width=1), showlegend=False,
                                 hoverinfo="skip"))
    fig.add_trace(go.Scatter(x=times, y=ctrl, mode="lines", name="Control", yaxis=yname,
                             line=dict(color=CONTROL_COLOR, width=3), showlegend=False,
                             hoverinfo="skip"))
    fig.add_trace(go.Scatter(x=times, y=mean, mode="lines", name="Ens. mean", yaxis=yname,
                             line=dict(color=MEAN_COLOR, width=3), showlegend=False,
                             hoverinfo="skip"))
    fig.add_trace(go.Scatter(x=times, y=oper, mode="lines", name="Oper", yaxis=yname,
                             line=dict(color=OPER_COLOR, width=3), showlegend=False,
                             hoverinfo="skip"))

GRID = "#3c3c3c"
DASH = "4px,4px"

fig.update_layout(
    width=W, height=H,
    margin=dict(l=L, r=R, t=T, b=B, pad=0),
    paper_bgcolor="black", plot_bgcolor="black",
    font=dict(family=FONT, color="white", size=10),
    hovermode=False,
    showlegend=False,
    xaxis=dict(type="date", range=X_RANGE, tick0="2026-08-21", dtick=2 * 86400000,
               tickformat="%d%b %Hz", ticks="inside", ticklen=4, tickcolor="white",
               showline=True, linecolor="white", linewidth=1, mirror=True,
               showgrid=True, gridcolor=GRID, griddash=DASH, gridwidth=1,
               minor=dict(dtick=86400000, showgrid=True, gridcolor=GRID, griddash=DASH),
               tickfont=dict(color="white", size=10), ticklabelstandoff=3,
               zeroline=False),
    yaxis=dict(range=[-10, 45], tick0=0, dtick=5, ticks="inside", ticklen=4,
               tickcolor="white", showline=True, linecolor="white", linewidth=1,
               mirror=True, showgrid=True, gridcolor=GRID, griddash=DASH, gridwidth=1,
               zeroline=True, zerolinecolor="white", zerolinewidth=1.5,
               tickfont=dict(color="white", size=10), ticklabelstandoff=6),
    yaxis2=dict(range=[0, 40], overlaying="y", side="right", tick0=0, dtick=10,
                ticks="inside", ticklen=6, tickcolor="white", showgrid=False,
                zeroline=False, showline=True, linecolor="white",
                minor=dict(dtick=1, ticks="inside", ticklen=3, tickcolor="white"),
                tickfont=dict(color="white", size=10), ticklabelstandoff=5),
)

ann = []
ann.append(dict(text="<b>" + TITLE + "</b>", x=px(436), y=py(12), xref="paper", yref="paper",
                showarrow=False, xanchor="center", yanchor="middle",
                font=dict(family=FONT, size=16, color="white")))
ann.append(dict(text="Date (UTC)", x=px(486), y=py(589), xref="paper", yref="paper",
                showarrow=False, xanchor="center", yanchor="middle",
                font=dict(family=FONT, size=10, color="white")))
ann.append(dict(text="2m Temp. (°C)", x=px(131), y=py(294), xref="paper", yref="paper",
                showarrow=False, xanchor="center", yanchor="middle", textangle=-90,
                font=dict(family=FONT, size=10, color="white")))
ann.append(dict(text="Neerslag (mm)", x=px(840), y=py(294), xref="paper", yref="paper",
                showarrow=False, xanchor="center", yanchor="middle", textangle=-90,
                font=dict(family=FONT, size=10, color="white")))
ann.append(dict(text="GFS Ensemble, 51N, 4.5E", x=px(119), y=py(599), xref="paper",
                yref="paper", showarrow=False, xanchor="left", yanchor="middle",
                font=dict(family=FONT, size=16, color="white")))
ann.append(dict(text="Wetterzentrale.de", x=px(649), y=py(599), xref="paper",
                yref="paper", showarrow=False, xanchor="left", yanchor="middle",
                font=dict(family=FONT, size=16, color="white")))

# manual two-column legend
col1 = [(MEMBER_NAMES[k], MEMBER_COLORS[k]) for k in range(0, 30, 2)] + \
       [("Control", CONTROL_COLOR), ("Oper", OPER_COLOR)]
col2 = [(MEMBER_NAMES[k], MEMBER_COLORS[k]) for k in range(1, 30, 2)] + \
       [("Ens. mean", MEAN_COLOR)]
shapes = []
for (items, lx0, lx1, tx) in [(col1, 0, 9, 9), (col2, 55, 65, 65)]:
    for r, (name, col) in enumerate(items):
        yy = 40 + 15 * r
        shapes.append(dict(type="line", xref="paper", yref="paper",
                           x0=px(lx0), x1=px(lx1), y0=py(yy), y1=py(yy),
                           line=dict(color=col, width=2)))
        ann.append(dict(text=name, x=px(tx), y=py(yy), xref="paper", yref="paper",
                        showarrow=False, xanchor="left", yanchor="middle",
                        font=dict(family=FONT, size=10, color="white")))

fig.update_layout(annotations=ann, shapes=shapes)

fig.write_html("out.html", config={"displayModeBar": False},
               post_script="document.body.style.margin='0px';"
                           "document.body.style.background='black';")
